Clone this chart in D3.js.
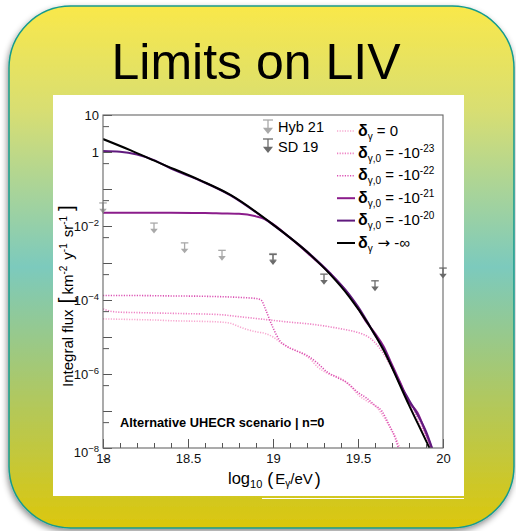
<!DOCTYPE html>
<html>
<head>
<meta charset="utf-8">
<script src="https://cdn.jsdelivr.net/npm/d3@7"></script>
<style>
body { margin: 0; background: #fff; }
text { font-family: "Liberation Sans", Arial, Helvetica, sans-serif; }
</style>
</head>
<body>
<svg id="chart" width="516" height="531"></svg>
<script>
// ---- data (log10 E on x, log10 of integral flux for the curves) ----

// delta_gamma -> -inf (black)
var eInf = [18.0, 18.16, 18.335, 18.57, 18.75, 18.98, 19.22, 19.335, 19.45, 19.65, 19.8, 19.92, 19.96];
var fInf = [0.35, 0.05, -0.3, -0.76, -1.16, -1.89, -2.78, -3.3, -3.92, -5.35, -6.84, -8.0, -8.4];

// delta_gamma,0 = -1e-20
var e20 = [18.0, 18.1, 18.2, 18.3, 18.4, 18.57, 18.75, 18.98, 19.22, 19.335, 19.45, 19.5, 19.55, 19.6, 19.65, 19.7, 19.75, 19.8, 19.85, 19.9, 19.95];
var f20 = [0.03, 0.01, -0.07, -0.22, -0.45, -0.77, -1.17, -1.9, -2.77, -3.27, -3.86, -4.18, -4.55, -4.95, -5.3, -5.8, -6.3, -6.7, -7.1, -7.55, -8.2];

// delta_gamma,0 = -1e-21
var e21 = [18.0, 18.2, 18.4, 18.6, 18.7, 18.8, 18.9, 18.95, 19.0, 19.1, 19.22, 19.335, 19.45, 19.5, 19.55, 19.6, 19.65, 19.7, 19.75, 19.8, 19.85, 19.9, 19.95];
var f21 = [-1.64, -1.64, -1.645, -1.65, -1.66, -1.67, -1.74, -1.81, -1.95, -2.32, -2.8, -3.28, -3.88, -4.22, -4.6, -4.9, -5.25, -5.75, -6.25, -6.75, -7.05, -7.6, -8.2];

// delta_gamma,0 = -1e-22
var e22 = [18.0, 18.2, 18.4, 18.6, 18.8, 18.9, 18.93, 18.96, 19.0, 19.04, 19.08, 19.14, 19.2, 19.26, 19.32, 19.38, 19.44, 19.5, 19.55, 19.6, 19.64, 19.68, 19.72, 19.75];
var f22 = [-3.88, -3.88, -3.89, -3.9, -3.93, -3.96, -4.0, -4.3, -4.75, -5.1, -5.25, -5.38, -5.5, -5.7, -5.95, -6.1, -6.25, -6.5, -6.65, -6.85, -7.0, -7.35, -7.75, -8.2];

// delta_gamma,0 = -1e-23
var e23 = [18.0, 18.04, 18.1, 18.2, 18.3, 18.4, 18.5, 18.6, 18.7, 18.8, 18.9, 19.0, 19.1, 19.2, 19.3, 19.4, 19.5, 19.55, 19.6, 19.65, 19.7, 19.75, 19.8, 19.85, 19.9, 19.95];
var f23 = [-4.24, -4.3, -4.33, -4.34, -4.35, -4.36, -4.37, -4.38, -4.4, -4.45, -4.5, -4.55, -4.6, -4.64, -4.7, -4.78, -4.88, -4.97, -5.15, -5.45, -5.85, -6.25, -6.75, -7.2, -7.7, -8.2];

// delta_gamma = 0
var eZero = [18.0, 18.1, 18.2, 18.3, 18.4, 18.5, 18.6, 18.7, 18.75, 18.8, 18.85, 18.9, 18.95, 19.0, 19.06, 19.1, 19.16, 19.22, 19.26, 19.32, 19.41, 19.46, 19.51, 19.56, 19.61, 19.65, 19.69, 19.73, 19.76];
var fZero = [-4.51, -4.52, -4.53, -4.54, -4.56, -4.57, -4.58, -4.6, -4.63, -4.72, -4.8, -4.86, -4.9, -5.0, -5.2, -5.3, -5.42, -5.6, -5.8, -5.98, -6.15, -6.35, -6.6, -6.75, -6.9, -7.15, -7.45, -7.8, -8.2];

// upper limits (km^-2 y^-1 sr^-1)
var eHyb = [18.0, 18.3, 18.48, 18.7, 19.0];
var limHyb = [0.042, 0.012, 0.0035, 0.0022, 0.0018];
var eSD = [19.0, 19.3, 19.6, 20.0];
var limSD = [0.0017, 0.0005, 0.00033, 0.00073];

var xTicksMajor = [18, 18.5, 19, 19.5, 20];
var yLabelExp = [1, 0, -2, -4, -6, -8];

// ---- page ----
var svg = d3.select("svg#chart");
var defs = svg.append("defs");

var grad = defs.append("linearGradient").attr("id", "bg")
  .attr("x1", 0).attr("y1", 0).attr("x2", 0).attr("y2", 1);
[[0, "#f9e84a"], [0.2, "#d8de72"], [0.5, "#7ccabd"], [0.75, "#b0c860"], [1, "#dcc70c"]].forEach(function(s){
  grad.append("stop").attr("offset", s[0]).attr("stop-color", s[1]);
});

var shadow = defs.append("filter").attr("id", "shadow")
  .attr("x", -0.05).attr("y", -0.05).attr("width", 1.1).attr("height", 1.1);
shadow.append("feDropShadow").attr("dx", -1).attr("dy", 3)
  .attr("stdDeviation", 3).attr("flood-color", "#000").attr("flood-opacity", 0.45);

svg.append("rect")
  .attr("x", 9).attr("y", 6).attr("width", 505).attr("height", 522)
  .attr("rx", 62)
  .attr("fill", "url(#bg)")
  .attr("stroke", "#179b8c").attr("stroke-width", 1.5)
  .attr("filter", "url(#shadow)");

svg.append("text")
  .attr("x", 256).attr("y", 79)
  .attr("text-anchor", "middle")
  .attr("font-size", 50)
  .text("Limits on LIV");

// white canvas of the plot
svg.append("rect").attr("x", 53).attr("y", 95).attr("width", 411).attr("height", 401).attr("fill", "#fff");
svg.append("line").attr("x1", 262).attr("x2", 464).attr("y1", 498.5).attr("y2", 498.5)
  .attr("stroke", "#fff").attr("stroke-width", 1.2);

// ---- scales ----
var x = d3.scaleLinear().domain([18, 20]).range([103, 443]);
var y = d3.scaleLog().domain([1e-8, 10]).range([448, 115]);

defs.append("clipPath").attr("id", "plotclip")
  .append("rect").attr("x", 103).attr("y", 115).attr("width", 340).attr("height", 333);

// small helper for text with sub/superscripts
function richText(g, px, py, parts, anchor){
  var t = g.append("text").attr("x", px).attr("y", py)
    .attr("text-anchor", anchor || "start");
  var cur = 0;
  parts.forEach(function(p){
    var off = p.off || 0;
    var ts = t.append("tspan").attr("dy", off - cur).attr("font-size", p.size).text(p.t);
    if (p.dx) ts.attr("dx", p.dx);
    if (p.weight) ts.attr("font-weight", p.weight);
    if (p.family) ts.attr("font-family", p.family);
    cur = off;
  });
  return t;
}

// ---- curves ----
function zipSeries(es, fs){
  return es.map(function(e, i){ return [e, Math.pow(10, fs[i])]; });
}

var series = [
  {key: "zero", data: zipSeries(eZero, fZero), color: "#f7a8d0", dotted: true},
  {key: "m23", data: zipSeries(e23, f23), color: "#ee82c4", dotted: true},
  {key: "m22", data: zipSeries(e22, f22), color: "#db52b3", dotted: true},
  {key: "m21", data: zipSeries(e21, f21), color: "#8b1c8b", dotted: false},
  {key: "m20", data: zipSeries(e20, f20), color: "#601a7e", dotted: false},
  {key: "inf", data: zipSeries(eInf, fInf), color: "#000", dotted: false}
];

var lineGen = d3.line()
  .x(function(d){ return x(d[0]); })
  .y(function(d){ return y(d[1]); })
  .curve(d3.curveMonotoneX);

var plot = svg.append("g").attr("clip-path", "url(#plotclip)");

plot.selectAll("path.curve")
  .data(series)
  .enter().append("path")
  .attr("class", "curve")
  .attr("d", function(d){ return lineGen(d.data); })
  .attr("fill", "none")
  .attr("stroke", function(d){ return d.color; })
  .attr("stroke-width", function(d){ return d.dotted ? 1.6 : 2; })
  .attr("stroke-dasharray", function(d){ return d.dotted ? "1.2,1.4" : null; });

// upper-limit arrows
function limitMarker(g, cx, cy, color, s){
  var w = 3.6 * s, h = 10 * s;
  g.append("line").attr("x1", cx - w).attr("x2", cx + w).attr("y1", cy).attr("y2", cy)
    .attr("stroke", color).attr("stroke-width", 1.3);
  g.append("line").attr("x1", cx).attr("x2", cx).attr("y1", cy).attr("y2", cy + h * 0.6)
    .attr("stroke", color).attr("stroke-width", 1.3);
  g.append("path")
    .attr("d", "M" + (cx - w) + "," + (cy + h * 0.55) + "L" + (cx + w) + "," + (cy + h * 0.55) + "L" + cx + "," + (cy + h) + "Z")
    .attr("fill", color);
}

var markers = svg.append("g");
eHyb.forEach(function(e, i){ limitMarker(markers, x(e), y(limHyb[i]), "#a9a9a9", 1.05); });
eSD.forEach(function(e, i){ limitMarker(markers, x(e), y(limSD[i]), "#6b6b6b", 1.05); });

// ---- axes ----
var decades = d3.range(-8, 2).map(function(k){ return Math.pow(10, k); });
var fives = d3.range(-9, 1).map(function(k){ return 5 * Math.pow(10, k); });
var xMinor = d3.range(18, 20.001, 0.1).map(function(v){ return +v.toFixed(1); })
  .filter(function(v){ return xTicksMajor.indexOf(v) < 0; });

function styleAxis(g){
  g.select(".domain").remove();
  g.selectAll(".tick line").attr("stroke", "#555");
  g.selectAll("text").attr("font-family", "Liberation Sans, Arial, sans-serif").attr("fill", "#111");
}

svg.append("g").attr("transform", "translate(103,0)")
  .call(d3.axisLeft(y).tickValues(decades).tickSize(-9).tickFormat(""))
  .call(styleAxis);
svg.append("g").attr("transform", "translate(103,0)")
  .call(d3.axisLeft(y).tickValues(fives).tickSize(-6).tickFormat(""))
  .call(styleAxis);

svg.append("g").attr("transform", "translate(0,448)")
  .call(d3.axisBottom(x).tickValues(xTicksMajor).tickSize(-9).tickPadding(6).tickFormat(d3.format("")))
  .call(styleAxis)
  .selectAll("text").attr("font-size", 13);
svg.append("g").attr("transform", "translate(0,448)")
  .call(d3.axisBottom(x).tickValues(xMinor).tickSize(-5).tickFormat(""))
  .call(styleAxis);

// frame
svg.append("rect").attr("x", 103).attr("y", 115).attr("width", 340).attr("height", 333)
  .attr("fill", "none").attr("stroke", "#666").attr("stroke-width", 1.1);

// y tick labels
var ylab = svg.append("g").attr("fill", "#111");
yLabelExp.forEach(function(k){
  var yy = y(Math.pow(10, k)) + 4.6;
  if (k === -8) yy += 4.5;
  if (k === 1) richText(ylab, 99, yy, [{t: "10", size: 13}], "end");
  else if (k === 0) richText(ylab, 99, yy, [{t: "1", size: 13}], "end");
  else richText(ylab, 99, yy, [{t: "10", size: 13}, {t: "\u2212" + (-k), size: 9.5, off: -5}], "end");
});

// axis titles
var xt = svg.append("g");
richText(xt, 228, 484, [
  {t: "log", size: 16.5},
  {t: "10", size: 11, off: 4},
  {t: "(", size: 18, dx: 5, off: 0.5},
  {t: "E", size: 15, dx: 2},
  {t: "\u03b3", size: 10, off: 3},
  {t: "/eV", size: 15},
  {t: ")", size: 18, dx: 2, off: 0.5}
]);

var yt = svg.append("g").attr("transform", "translate(73,296) rotate(-90)");
richText(yt, 0, 0, [
  {t: "Integral flux", size: 15},
  {t: "[", size: 21, dx: 6},
  {t: "km", size: 15, dx: 3},
  {t: "-2", size: 10, off: -6},
  {t: "y", size: 15, dx: 6},
  {t: "-1", size: 10, off: -6},
  {t: "sr", size: 15, dx: 6},
  {t: "-1", size: 10, off: -6},
  {t: "]", size: 21, dx: 5}
], "middle");

svg.append("text")
  .attr("x", 120).attr("y", 427)
  .attr("font-size", 12.8).attr("font-weight", "bold")
  .text("Alternative UHECR scenario | n=0");

// ---- legend ----
var leg = svg.append("g");
limitMarker(leg, 268, 120, "#a9a9a9", 1.4);
limitMarker(leg, 268, 139, "#6b6b6b", 1.4);
leg.append("text").attr("x", 278).attr("y", 132).attr("font-size", 14.5).text("Hyb 21");
leg.append("text").attr("x", 278).attr("y", 152).attr("font-size", 14.5).text("SD 19");

var legendLabels = [
  [{t: "\u03b4", size: 16, weight: "bold"}, {t: "\u03b3", size: 10, off: 4}, {t: " = 0", size: 15}],
  [{t: "\u03b4", size: 16, weight: "bold"}, {t: "\u03b3,0", size: 10, off: 4}, {t: " = -10", size: 15}, {t: "-23", size: 10, off: -6}],
  [{t: "\u03b4", size: 16, weight: "bold"}, {t: "\u03b3,0", size: 10, off: 4}, {t: " = -10", size: 15}, {t: "-22", size: 10, off: -6}],
  [{t: "\u03b4", size: 16, weight: "bold"}, {t: "\u03b3,0", size: 10, off: 4}, {t: " = -10", size: 15}, {t: "-21", size: 10, off: -6}],
  [{t: "\u03b4", size: 16, weight: "bold"}, {t: "\u03b3,0", size: 10, off: 4}, {t: " = -10", size: 15}, {t: "-20", size: 10, off: -6}],
  [{t: "\u03b4", size: 16, weight: "bold"}, {t: "\u03b3", size: 10, off: 4}, {t: " \u2192", size: 15, family: "DejaVu Sans"}, {t: " -\u221e", size: 15}]
];

series.forEach(function(s, i){
  var cy = 131 + i * 22.4;
  leg.append("line").attr("x1", 337).attr("x2", 355).attr("y1", cy).attr("y2", cy)
    .attr("stroke", s.color)
    .attr("stroke-width", s.dotted ? 1.6 : 2)
    .attr("stroke-dasharray", s.dotted ? "1.2,1.4" : null);
  richText(leg, 358, cy + 4.5, legendLabels[i]);
});
</script>
</body>
</html>
